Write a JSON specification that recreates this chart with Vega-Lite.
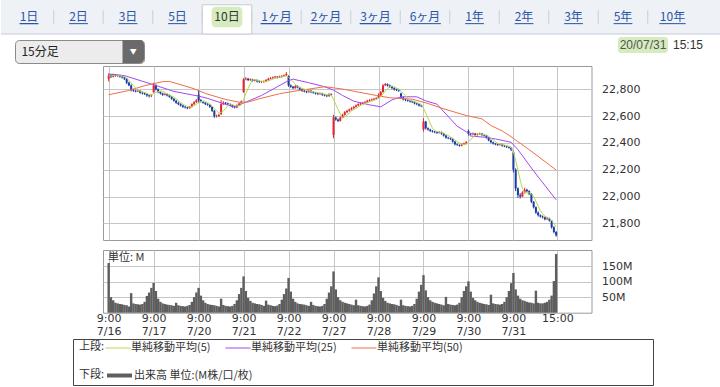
{
"$schema":"https://vega.github.io/schema/vega-lite/v6.json",
"padding":0,
"background":"white",
"config":{"view":{"stroke":null},"font":"DejaVu Sans","axis":{"labelFont":"DejaVu Sans","labelFontSize":11,"labelColor":"#333333","gridColor":"#c6c6c6","gridWidth":1,"domain":false,"ticks":false,"labelOverlap":false,"labelBound":false},"legend":{"labelFont":"Noto Sans CJK JP","titleFont":"Noto Sans CJK JP","labelFontSize":11,"titleFontSize":11,"titleFontWeight":"normal","labelColor":"#333333","titleColor":"#333333"},"text":{"font":"Noto Sans CJK JP"}},
"datasets":{
"tabs":[{"t":"1日"},{"t":"2日"},{"t":"3日"},{"t":"5日"},{"t":"10日"},{"t":"1ヶ月"},{"t":"2ヶ月"},{"t":"3ヶ月"},{"t":"6ヶ月"},{"t":"1年"},{"t":"2年"},{"t":"3年"},{"t":"5年"},{"t":"10年"}],
"ma":[
{"s":"25","i":0,"v":22915},{"s":"25","i":7,"v":22903},{"s":"25","i":20,"v":22835},{"s":"25","i":29,"v":22785},{"s":"25","i":40,"v":22750},{"s":"25","i":44,"v":22733},{"s":"25","i":53,"v":22683},{"s":"25","i":56,"v":22670},{"s":"25","i":60,"v":22698},{"s":"25","i":68,"v":22755},{"s":"25","i":75,"v":22820},{"s":"25","i":80,"v":22866},{"s":"25","i":82,"v":22877},{"s":"25","i":89,"v":22850},{"s":"25","i":96,"v":22820},{"s":"25","i":100,"v":22795},{"s":"25","i":104,"v":22755},{"s":"25","i":109,"v":22712},{"s":"25","i":116,"v":22685},{"s":"25","i":121,"v":22670},{"s":"25","i":126,"v":22722},{"s":"25","i":130,"v":22745},{"s":"25","i":137,"v":22745},{"s":"25","i":141,"v":22715},{"s":"25","i":146,"v":22690},{"s":"25","i":150,"v":22616},{"s":"25","i":155,"v":22525},{"s":"25","i":159,"v":22484},{"s":"25","i":161,"v":22452},{"s":"25","i":167,"v":22443},{"s":"25","i":172,"v":22430},{"s":"25","i":179,"v":22405},{"s":"25","i":182,"v":22350},{"s":"25","i":189,"v":22190},{"s":"25","i":199,"v":21975},
{"s":"50","i":0,"v":22760},{"s":"50","i":9,"v":22792},{"s":"50","i":16,"v":22828},{"s":"50","i":24,"v":22858},{"s":"50","i":27,"v":22860},{"s":"50","i":31,"v":22840},{"s":"50","i":38,"v":22805},{"s":"50","i":43,"v":22770},{"s":"50","i":52,"v":22725},{"s":"50","i":58,"v":22705},{"s":"50","i":62,"v":22706},{"s":"50","i":67,"v":22730},{"s":"50","i":76,"v":22768},{"s":"50","i":82,"v":22785},{"s":"50","i":96,"v":22820},{"s":"50","i":100,"v":22812},{"s":"50","i":105,"v":22800},{"s":"50","i":111,"v":22780},{"s":"50","i":119,"v":22755},{"s":"50","i":125,"v":22738},{"s":"50","i":135,"v":22727},{"s":"50","i":142,"v":22695},{"s":"50","i":149,"v":22655},{"s":"50","i":159,"v":22605},{"s":"50","i":166,"v":22580},{"s":"50","i":170,"v":22530},{"s":"50","i":175,"v":22490},{"s":"50","i":179,"v":22446},{"s":"50","i":187,"v":22350},{"s":"50","i":199,"v":22198}
],
"candles":[
{"i":0,"o":22880,"h":22920,"l":22860,"c":22905,"v":160,"m":22900},
{"i":1,"o":22905,"h":22915,"l":22885,"c":22895,"v":50,"m":22900},
{"i":2,"o":22895,"h":22918,"l":22890,"c":22910,"v":40,"m":22903},
{"i":3,"o":22910,"h":22915,"l":22895,"c":22900,"v":32,"m":22902},
{"i":4,"o":22900,"h":22912,"l":22893,"c":22905,"v":30,"m":22903},
{"i":5,"o":22905,"h":22910,"l":22888,"c":22895,"v":28,"m":22901},
{"i":6,"o":22895,"h":22902,"l":22882,"c":22890,"v":27,"m":22900},
{"i":7,"o":22890,"h":22895,"l":22870,"c":22880,"v":25,"m":22894},
{"i":8,"o":22880,"h":22885,"l":22840,"c":22850,"v":24,"m":22884},
{"i":9,"o":22850,"h":22858,"l":22825,"c":22830,"v":20,"m":22869},
{"i":10,"o":22830,"h":22838,"l":22785,"c":22795,"v":63,"m":22849},
{"i":11,"o":22795,"h":22805,"l":22782,"c":22790,"v":30,"m":22829},
{"i":12,"o":22790,"h":22798,"l":22778,"c":22785,"v":28,"m":22810},
{"i":13,"o":22785,"h":22797,"l":22780,"c":22790,"v":27,"m":22798},
{"i":14,"o":22790,"h":22794,"l":22768,"c":22775,"v":26,"m":22787},
{"i":15,"o":22775,"h":22783,"l":22762,"c":22770,"v":28,"m":22782},
{"i":16,"o":22770,"h":22778,"l":22758,"c":22765,"v":35,"m":22777},
{"i":17,"o":22765,"h":22770,"l":22745,"c":22755,"v":54,"m":22771},
{"i":18,"o":22755,"h":22762,"l":22740,"c":22750,"v":65,"m":22763},
{"i":19,"o":22750,"h":22762,"l":22742,"c":22755,"v":80,"m":22759},
{"i":20,"o":22780,"h":22850,"l":22775,"c":22830,"v":96,"m":22771},
{"i":21,"o":22830,"h":22838,"l":22792,"c":22800,"v":70,"m":22778},
{"i":22,"o":22800,"h":22808,"l":22772,"c":22780,"v":45,"m":22783},
{"i":23,"o":22780,"h":22786,"l":22762,"c":22770,"v":35,"m":22787},
{"i":24,"o":22770,"h":22775,"l":22752,"c":22760,"v":30,"m":22788},
{"i":25,"o":22760,"h":22772,"l":22755,"c":22765,"v":28,"m":22775},
{"i":26,"o":22765,"h":22770,"l":22748,"c":22755,"v":26,"m":22766},
{"i":27,"o":22755,"h":22760,"l":22738,"c":22745,"v":25,"m":22759},
{"i":28,"o":22745,"h":22750,"l":22722,"c":22730,"v":24,"m":22751},
{"i":29,"o":22730,"h":22735,"l":22708,"c":22715,"v":22,"m":22742},
{"i":30,"o":22715,"h":22722,"l":22692,"c":22700,"v":32,"m":22729},
{"i":31,"o":22700,"h":22708,"l":22682,"c":22690,"v":24,"m":22716},
{"i":32,"o":22690,"h":22696,"l":22672,"c":22680,"v":22,"m":22703},
{"i":33,"o":22680,"h":22686,"l":22662,"c":22670,"v":21,"m":22691},
{"i":34,"o":22670,"h":22676,"l":22658,"c":22665,"v":20,"m":22681},
{"i":35,"o":22665,"h":22670,"l":22652,"c":22660,"v":22,"m":22673},
{"i":36,"o":22660,"h":22676,"l":22655,"c":22670,"v":25,"m":22669},
{"i":37,"o":22670,"h":22696,"l":22665,"c":22690,"v":35,"m":22671},
{"i":38,"o":22690,"h":22712,"l":22684,"c":22705,"v":50,"m":22678},
{"i":39,"o":22705,"h":22728,"l":22698,"c":22720,"v":65,"m":22689},
{"i":40,"o":22760,"h":22790,"l":22700,"c":22720,"v":80,"m":22701},
{"i":41,"o":22720,"h":22728,"l":22702,"c":22710,"v":55,"m":22709},
{"i":42,"o":22710,"h":22716,"l":22693,"c":22700,"v":40,"m":22711},
{"i":43,"o":22700,"h":22706,"l":22683,"c":22690,"v":32,"m":22708},
{"i":44,"o":22690,"h":22697,"l":22678,"c":22685,"v":28,"m":22701},
{"i":45,"o":22685,"h":22690,"l":22662,"c":22670,"v":26,"m":22691},
{"i":46,"o":22670,"h":22675,"l":22632,"c":22640,"v":25,"m":22677},
{"i":47,"o":22640,"h":22646,"l":22588,"c":22600,"v":24,"m":22657},
{"i":48,"o":22600,"h":22612,"l":22590,"c":22600,"v":22,"m":22639},
{"i":49,"o":22600,"h":22618,"l":22595,"c":22610,"v":20,"m":22624},
{"i":50,"o":22615,"h":22720,"l":22610,"c":22690,"v":45,"m":22628},
{"i":51,"o":22690,"h":22712,"l":22684,"c":22700,"v":25,"m":22640},
{"i":52,"o":22700,"h":22706,"l":22688,"c":22695,"v":22,"m":22659},
{"i":53,"o":22695,"h":22702,"l":22683,"c":22690,"v":21,"m":22677},
{"i":54,"o":22690,"h":22695,"l":22673,"c":22680,"v":20,"m":22691},
{"i":55,"o":22680,"h":22686,"l":22663,"c":22670,"v":22,"m":22687},
{"i":56,"o":22670,"h":22675,"l":22658,"c":22665,"v":28,"m":22680},
{"i":57,"o":22665,"h":22688,"l":22660,"c":22680,"v":40,"m":22677},
{"i":58,"o":22680,"h":22702,"l":22675,"c":22695,"v":60,"m":22678},
{"i":59,"o":22695,"h":22718,"l":22690,"c":22710,"v":80,"m":22684},
{"i":60,"o":22780,"h":22885,"l":22775,"c":22875,"v":117,"m":22725},
{"i":61,"o":22875,"h":22892,"l":22868,"c":22880,"v":70,"m":22768},
{"i":62,"o":22880,"h":22886,"l":22862,"c":22870,"v":48,"m":22806},
{"i":63,"o":22870,"h":22882,"l":22864,"c":22875,"v":38,"m":22842},
{"i":64,"o":22875,"h":22880,"l":22858,"c":22865,"v":32,"m":22873},
{"i":65,"o":22865,"h":22878,"l":22860,"c":22870,"v":30,"m":22872},
{"i":66,"o":22870,"h":22875,"l":22852,"c":22860,"v":28,"m":22868},
{"i":67,"o":22860,"h":22866,"l":22848,"c":22855,"v":27,"m":22865},
{"i":68,"o":22855,"h":22863,"l":22847,"c":22855,"v":25,"m":22861},
{"i":69,"o":22855,"h":22867,"l":22850,"c":22860,"v":22,"m":22860},
{"i":70,"o":22860,"h":22877,"l":22855,"c":22870,"v":39,"m":22860},
{"i":71,"o":22870,"h":22887,"l":22865,"c":22880,"v":26,"m":22864},
{"i":72,"o":22880,"h":22892,"l":22874,"c":22885,"v":24,"m":22870},
{"i":73,"o":22885,"h":22897,"l":22878,"c":22890,"v":22,"m":22877},
{"i":74,"o":22890,"h":22902,"l":22884,"c":22895,"v":21,"m":22884},
{"i":75,"o":22895,"h":22900,"l":22882,"c":22890,"v":23,"m":22888},
{"i":76,"o":22890,"h":22903,"l":22885,"c":22895,"v":28,"m":22891},
{"i":77,"o":22895,"h":22907,"l":22889,"c":22900,"v":42,"m":22894},
{"i":78,"o":22900,"h":22912,"l":22894,"c":22905,"v":60,"m":22897},
{"i":79,"o":22905,"h":22930,"l":22900,"c":22915,"v":78,"m":22901},
{"i":80,"o":22900,"h":22905,"l":22820,"c":22830,"v":112,"m":22889},
{"i":81,"o":22830,"h":22838,"l":22812,"c":22820,"v":68,"m":22874},
{"i":82,"o":22820,"h":22826,"l":22802,"c":22810,"v":45,"m":22856},
{"i":83,"o":22810,"h":22832,"l":22805,"c":22825,"v":35,"m":22840},
{"i":84,"o":22825,"h":22830,"l":22808,"c":22815,"v":30,"m":22820},
{"i":85,"o":22815,"h":22820,"l":22792,"c":22800,"v":28,"m":22814},
{"i":86,"o":22800,"h":22806,"l":22782,"c":22790,"v":27,"m":22808},
{"i":87,"o":22790,"h":22796,"l":22778,"c":22785,"v":26,"m":22803},
{"i":88,"o":22785,"h":22790,"l":22772,"c":22780,"v":24,"m":22794},
{"i":89,"o":22780,"h":22797,"l":22775,"c":22790,"v":22,"m":22789},
{"i":90,"o":22790,"h":22795,"l":22772,"c":22780,"v":35,"m":22785},
{"i":91,"o":22780,"h":22786,"l":22768,"c":22775,"v":25,"m":22782},
{"i":92,"o":22775,"h":22780,"l":22762,"c":22770,"v":22,"m":22779},
{"i":93,"o":22770,"h":22776,"l":22758,"c":22765,"v":21,"m":22776},
{"i":94,"o":22765,"h":22777,"l":22760,"c":22770,"v":20,"m":22772},
{"i":95,"o":22770,"h":22775,"l":22752,"c":22760,"v":22,"m":22768},
{"i":96,"o":22760,"h":22766,"l":22748,"c":22755,"v":28,"m":22764},
{"i":97,"o":22755,"h":22760,"l":22742,"c":22750,"v":45,"m":22760},
{"i":98,"o":22750,"h":22772,"l":22745,"c":22765,"v":65,"m":22760},
{"i":99,"o":22765,"h":22770,"l":22752,"c":22760,"v":85,"m":22758},
{"i":100,"o":22460,"h":22610,"l":22435,"c":22590,"v":133,"m":22724},
{"i":101,"o":22590,"h":22598,"l":22566,"c":22575,"v":75,"m":22688},
{"i":102,"o":22575,"h":22582,"l":22556,"c":22565,"v":50,"m":22651},
{"i":103,"o":22565,"h":22598,"l":22560,"c":22590,"v":40,"m":22616},
{"i":104,"o":22590,"h":22618,"l":22585,"c":22610,"v":35,"m":22586},
{"i":105,"o":22610,"h":22638,"l":22604,"c":22630,"v":32,"m":22594},
{"i":106,"o":22630,"h":22648,"l":22622,"c":22640,"v":30,"m":22607},
{"i":107,"o":22640,"h":22657,"l":22633,"c":22650,"v":28,"m":22624},
{"i":108,"o":22650,"h":22667,"l":22643,"c":22660,"v":26,"m":22638},
{"i":109,"o":22660,"h":22677,"l":22653,"c":22670,"v":24,"m":22650},
{"i":110,"o":22670,"h":22688,"l":22664,"c":22680,"v":42,"m":22660},
{"i":111,"o":22680,"h":22697,"l":22674,"c":22690,"v":24,"m":22670},
{"i":112,"o":22690,"h":22702,"l":22684,"c":22695,"v":22,"m":22679},
{"i":113,"o":22695,"h":22707,"l":22688,"c":22700,"v":21,"m":22687},
{"i":114,"o":22700,"h":22712,"l":22694,"c":22705,"v":20,"m":22694},
{"i":115,"o":22705,"h":22722,"l":22699,"c":22715,"v":22,"m":22701},
{"i":116,"o":22715,"h":22727,"l":22708,"c":22720,"v":26,"m":22707},
{"i":117,"o":22720,"h":22732,"l":22714,"c":22725,"v":40,"m":22713},
{"i":118,"o":22725,"h":22737,"l":22718,"c":22730,"v":62,"m":22719},
{"i":119,"o":22730,"h":22742,"l":22724,"c":22735,"v":85,"m":22725},
{"i":120,"o":22740,"h":22770,"l":22735,"c":22755,"v":114,"m":22733},
{"i":121,"o":22755,"h":22788,"l":22750,"c":22780,"v":70,"m":22745},
{"i":122,"o":22780,"h":22840,"l":22775,"c":22830,"v":48,"m":22766},
{"i":123,"o":22830,"h":22848,"l":22825,"c":22840,"v":38,"m":22788},
{"i":124,"o":22840,"h":22845,"l":22822,"c":22830,"v":32,"m":22807},
{"i":125,"o":22830,"h":22836,"l":22812,"c":22820,"v":30,"m":22820},
{"i":126,"o":22820,"h":22826,"l":22802,"c":22810,"v":28,"m":22826},
{"i":127,"o":22810,"h":22816,"l":22792,"c":22800,"v":27,"m":22820},
{"i":128,"o":22800,"h":22806,"l":22788,"c":22795,"v":25,"m":22811},
{"i":129,"o":22795,"h":22800,"l":22782,"c":22790,"v":22,"m":22803},
{"i":130,"o":22770,"h":22775,"l":22732,"c":22740,"v":42,"m":22787},
{"i":131,"o":22740,"h":22746,"l":22718,"c":22725,"v":24,"m":22770},
{"i":132,"o":22725,"h":22731,"l":22712,"c":22720,"v":22,"m":22754},
{"i":133,"o":22720,"h":22726,"l":22708,"c":22715,"v":21,"m":22738},
{"i":134,"o":22715,"h":22720,"l":22702,"c":22710,"v":20,"m":22722},
{"i":135,"o":22710,"h":22716,"l":22698,"c":22705,"v":22,"m":22715},
{"i":136,"o":22705,"h":22710,"l":22688,"c":22695,"v":28,"m":22709},
{"i":137,"o":22695,"h":22700,"l":22682,"c":22690,"v":45,"m":22703},
{"i":138,"o":22690,"h":22695,"l":22672,"c":22680,"v":68,"m":22696},
{"i":139,"o":22680,"h":22686,"l":22668,"c":22675,"v":90,"m":22689},
{"i":140,"o":22500,"h":22585,"l":22485,"c":22560,"v":121,"m":22660},
{"i":141,"o":22560,"h":22565,"l":22500,"c":22510,"v":72,"m":22623},
{"i":142,"o":22510,"h":22516,"l":22492,"c":22500,"v":50,"m":22585},
{"i":143,"o":22500,"h":22506,"l":22482,"c":22490,"v":40,"m":22547},
{"i":144,"o":22490,"h":22496,"l":22478,"c":22485,"v":35,"m":22509},
{"i":145,"o":22485,"h":22490,"l":22472,"c":22480,"v":32,"m":22493},
{"i":146,"o":22480,"h":22485,"l":22467,"c":22475,"v":30,"m":22486},
{"i":147,"o":22475,"h":22488,"l":22470,"c":22480,"v":28,"m":22482},
{"i":148,"o":22480,"h":22485,"l":22462,"c":22470,"v":26,"m":22478},
{"i":149,"o":22470,"h":22475,"l":22447,"c":22455,"v":24,"m":22472},
{"i":150,"o":22455,"h":22460,"l":22432,"c":22440,"v":51,"m":22464},
{"i":151,"o":22440,"h":22446,"l":22428,"c":22435,"v":28,"m":22456},
{"i":152,"o":22435,"h":22440,"l":22422,"c":22430,"v":26,"m":22446},
{"i":153,"o":22430,"h":22435,"l":22402,"c":22410,"v":25,"m":22434},
{"i":154,"o":22410,"h":22415,"l":22382,"c":22390,"v":24,"m":22421},
{"i":155,"o":22390,"h":22396,"l":22378,"c":22385,"v":26,"m":22410},
{"i":156,"o":22385,"h":22390,"l":22372,"c":22380,"v":32,"m":22399},
{"i":157,"o":22380,"h":22397,"l":22375,"c":22390,"v":50,"m":22391},
{"i":158,"o":22390,"h":22402,"l":22384,"c":22395,"v":70,"m":22388},
{"i":159,"o":22395,"h":22414,"l":22390,"c":22405,"v":85,"m":22391},
{"i":160,"o":22490,"h":22500,"l":22455,"c":22470,"v":101,"m":22408},
{"i":161,"o":22470,"h":22476,"l":22457,"c":22465,"v":68,"m":22425},
{"i":162,"o":22465,"h":22478,"l":22460,"c":22470,"v":48,"m":22441},
{"i":163,"o":22470,"h":22475,"l":22452,"c":22460,"v":40,"m":22454},
{"i":164,"o":22460,"h":22472,"l":22455,"c":22465,"v":35,"m":22466},
{"i":165,"o":22465,"h":22477,"l":22460,"c":22470,"v":32,"m":22466},
{"i":166,"o":22470,"h":22475,"l":22452,"c":22460,"v":30,"m":22465},
{"i":167,"o":22460,"h":22465,"l":22448,"c":22455,"v":28,"m":22462},
{"i":168,"o":22455,"h":22460,"l":22432,"c":22440,"v":27,"m":22458},
{"i":169,"o":22440,"h":22445,"l":22412,"c":22420,"v":25,"m":22449},
{"i":170,"o":22420,"h":22425,"l":22398,"c":22405,"v":58,"m":22436},
{"i":171,"o":22405,"h":22410,"l":22388,"c":22395,"v":30,"m":22423},
{"i":172,"o":22395,"h":22400,"l":22383,"c":22390,"v":28,"m":22410},
{"i":173,"o":22390,"h":22395,"l":22378,"c":22385,"v":27,"m":22399},
{"i":174,"o":22385,"h":22397,"l":22380,"c":22390,"v":26,"m":22393},
{"i":175,"o":22390,"h":22395,"l":22372,"c":22380,"v":28,"m":22388},
{"i":176,"o":22380,"h":22385,"l":22368,"c":22375,"v":35,"m":22384},
{"i":177,"o":22375,"h":22380,"l":22362,"c":22370,"v":50,"m":22380},
{"i":178,"o":22370,"h":22375,"l":22358,"c":22365,"v":70,"m":22376},
{"i":179,"o":22365,"h":22370,"l":22340,"c":22350,"v":95,"m":22368},
{"i":180,"o":22330,"h":22340,"l":22180,"c":22200,"v":128,"m":22332},
{"i":181,"o":22200,"h":22210,"l":22040,"c":22060,"v":75,"m":22269},
{"i":182,"o":22060,"h":22068,"l":21990,"c":22010,"v":55,"m":22197},
{"i":183,"o":22010,"h":22025,"l":21985,"c":22000,"v":45,"m":22124},
{"i":184,"o":22000,"h":22040,"l":21995,"c":22030,"v":40,"m":22060},
{"i":185,"o":22030,"h":22065,"l":22022,"c":22050,"v":38,"m":22030},
{"i":186,"o":22050,"h":22058,"l":22032,"c":22040,"v":35,"m":22026},
{"i":187,"o":22040,"h":22046,"l":22010,"c":22020,"v":33,"m":22028},
{"i":188,"o":22020,"h":22026,"l":21950,"c":21960,"v":32,"m":22020},
{"i":189,"o":21960,"h":21966,"l":21910,"c":21920,"v":30,"m":21998},
{"i":190,"o":21920,"h":21926,"l":21870,"c":21880,"v":71,"m":21964},
{"i":191,"o":21880,"h":21888,"l":21850,"c":21860,"v":32,"m":21928},
{"i":192,"o":21860,"h":21866,"l":21842,"c":21850,"v":30,"m":21894},
{"i":193,"o":21850,"h":21858,"l":21836,"c":21845,"v":30,"m":21871},
{"i":194,"o":21845,"h":21850,"l":21822,"c":21830,"v":32,"m":21853},
{"i":195,"o":21830,"h":21848,"l":21825,"c":21835,"v":35,"m":21844},
{"i":196,"o":21835,"h":21842,"l":21812,"c":21820,"v":42,"m":21836},
{"i":197,"o":21820,"h":21825,"l":21760,"c":21770,"v":55,"m":21820},
{"i":198,"o":21770,"h":21778,"l":21725,"c":21735,"v":102,"m":21798},
{"i":199,"o":21735,"h":21742,"l":21700,"c":21710,"v":189,"m":21774}
]},
"vconcat":[
{"width":720,"height":34,"data":{"name":"tabs"},"view":{"fill":"#eef1f6"},
 "layer":[
  {"transform":[{"filter":"datum.t == '1日'"}],"mark":{"type":"rule","color":"#c5cbd6"},"encoding":{"y":{"datum":0,"type":"quantitative","scale":{"domain":[0,1]},"axis":null}}},
  {"transform":[{"filter":"datum.t == '10日'"}],"mark":{"type":"bar","fill":"#ffffff","stroke":"#c5cbd6","strokeWidth":1},
   "encoding":{"x":{"field":"t","type":"nominal","sort":null,"scale":{"domain":["1日","2日","3日","5日","10日","1ヶ月","2ヶ月","3ヶ月","6ヶ月","1年","2年","3年","5年","10年"],"paddingInner":0,"paddingOuter":0.2727,"align":0.12},"axis":null},"y":{"datum":0,"type":"quantitative","axis":null},"y2":{"datum":0.86}}},
  {"transform":[{"filter":"datum.t == '10日'"}],"mark":{"type":"bar","fill":"#d5ecbf","cornerRadius":4,"width":{"band":0.62}},
   "encoding":{"x":{"field":"t","type":"nominal","sort":null,"axis":null},"y":{"datum":0.2,"type":"quantitative","axis":null},"y2":{"datum":0.8}}},
  {"transform":[{"filter":"datum.t != '1日'"}],"mark":{"type":"rule","color":"#c9cfd9"},
   "encoding":{"x":{"field":"t","type":"nominal","sort":null,"bandPosition":0,"axis":null},"y":{"datum":0.3,"type":"quantitative","axis":null},"y2":{"datum":0.7}}},
  {"transform":[{"filter":"length(datum.t) == 2"}],"mark":{"type":"bar","fill":"#2b55a6","width":{"band":0.38}},
   "encoding":{"x":{"field":"t","type":"nominal","sort":null,"axis":null},"y":{"datum":0.29,"type":"quantitative","axis":null},"y2":{"datum":0.32}}},
  {"transform":[{"filter":"datum.t == '10年'"}],"mark":{"type":"bar","fill":"#2b55a6","width":{"band":0.53}},
   "encoding":{"x":{"field":"t","type":"nominal","sort":null,"axis":null},"y":{"datum":0.29,"type":"quantitative","axis":null},"y2":{"datum":0.32}}},
  {"transform":[{"filter":"indexof(datum.t, 'ヶ') >= 0"}],"mark":{"type":"bar","fill":"#2b55a6","width":{"band":0.64}},
   "encoding":{"x":{"field":"t","type":"nominal","sort":null,"axis":null},"y":{"datum":0.29,"type":"quantitative","axis":null},"y2":{"datum":0.32}}},
  {"mark":{"type":"text","fontSize":12,"font":"Noto Sans CJK JP"},
   "encoding":{"x":{"field":"t","type":"nominal","sort":null,"axis":null},"y":{"datum":0.5,"type":"quantitative","axis":null},"text":{"field":"t"},"color":{"condition":{"test":"datum.t == '10日'","value":"#333333"},"value":"#2b55a6"}}}
 ]},
{"hconcat":[
  {"width":13,"height":30,"data":{"values":[{}]},"mark":{"type":"point","size":0,"opacity":0}},
  {"vconcat":[
    {"width":129,"height":4,"data":{"values":[{}]},"mark":{"type":"point","size":0,"opacity":0}},
    {"width":129,"height":23,"data":{"values":[{"p":"label","t":"15分足"},{"p":"arrow","t":"▼"}]},"view":{"fill":"#ececec","stroke":"#8a8a8a","cornerRadius":4},
     "layer":[
      {"transform":[{"filter":"datum.p == 'arrow'"}],"mark":{"type":"bar","fill":"#6a6a6a","cornerRadiusTopRight":4,"cornerRadiusBottomRight":4},
       "encoding":{"x":{"field":"p","type":"nominal","scale":{"domain":["label","m1","m2","m3","m4","arrow"],"paddingInner":0,"paddingOuter":0},"axis":null}}},
      {"transform":[{"filter":"datum.p == 'arrow'"}],"mark":{"type":"text","fontSize":7,"color":"#ffffff"},
       "encoding":{"x":{"field":"p","type":"nominal","axis":null},"text":{"field":"t"}}},
      {"transform":[{"filter":"datum.p == 'label'"}],"mark":{"type":"text","fontSize":12,"align":"left","color":"#222222"},
       "encoding":{"x":{"field":"p","type":"nominal","bandPosition":0.3,"axis":null},"text":{"field":"t"}}}
     ]}
  ],"spacing":0},
  {"width":473,"height":30,"data":{"values":[{}]},"mark":{"type":"point","size":0,"opacity":0}},
  {"vconcat":[
    {"width":100,"height":2,"data":{"values":[{}]},"mark":{"type":"point","size":0,"opacity":0}},
    {"width":100,"height":16,"data":{"values":[{"p":"d","t":"20/07/31"},{"p":"t","t":"15:15"}]},
     "layer":[
      {"transform":[{"filter":"datum.p == 'd'"}],"mark":{"type":"bar","fill":"#d5ecbf","cornerRadius":3},
       "encoding":{"x":{"field":"p","type":"nominal","scale":{"domain":["d","t"],"paddingInner":0,"paddingOuter":0},"axis":null}}},
      {"transform":[{"filter":"datum.p == 'd'"}],"mark":{"type":"text","fontSize":12,"font":"Liberation Sans","color":"#555555"},
       "encoding":{"x":{"field":"p","type":"nominal","axis":null},"text":{"field":"t"}}},
      {"transform":[{"filter":"datum.p == 't'"}],"mark":{"type":"text","fontSize":12,"font":"Liberation Sans","color":"#333333","align":"left"},
       "encoding":{"x":{"field":"p","type":"nominal","bandPosition":0.1,"axis":null},"text":{"field":"t"}}}
     ]}
  ],"spacing":0}
 ],"spacing":0},
{"hconcat":[
  {"width":101.5,"height":246.7,"data":{"values":[{}]},"mark":{"type":"point","size":0,"opacity":0}},
  {"vconcat":[
    {"width":488.5,"height":174,"view":{"stroke":"#9a9a9a"},
     "layer":[
      {"data":{"name":"candles"},"mark":{"type":"rule","strokeWidth":1},
       "encoding":{"x":{"field":"i","type":"quantitative","scale":{"domain":[-0.3,212.5],"nice":false,"zero":false},"axis":{"values":[0,20,40,60,80,100,120,140,160,180,199.5],"labels":false,"grid":true,"title":null}},
        "y":{"field":"l","type":"quantitative","scale":{"domain":[21675,22975],"nice":false,"zero":false},"axis":{"orient":"right","values":[21800,22000,22200,22400,22600,22800],"format":",d","grid":true,"labelPadding":10,"labelOverlap":false,"title":null}},
        "y2":{"field":"h"},
        "color":{"condition":{"test":"datum.c >= datum.o","value":"#e5252b"},"value":"#1b3ca6"}}},
      {"data":{"name":"candles"},"mark":{"type":"bar","size":2},
       "encoding":{"x":{"field":"i","type":"quantitative","axis":{"values":[0,20,40,60,80,100,120,140,160,180,199.5],"labels":false,"grid":true,"title":null}},
        "y":{"field":"o","type":"quantitative","axis":{"orient":"right","values":[21800,22000,22200,22400,22600,22800],"format":",d","grid":true,"labelPadding":10,"labelOverlap":false,"title":null}},"y2":{"field":"c"},
        "color":{"condition":{"test":"datum.c >= datum.o","value":"#e5252b"},"value":"#1b3ca6"}}},
      {"data":{"name":"ma"},"mark":{"type":"line","strokeWidth":1},
       "encoding":{"x":{"field":"i","type":"quantitative","axis":{"values":[0,20,40,60,80,100,120,140,160,180,199.5],"labels":false,"grid":true,"title":null}},
        "y":{"field":"v","type":"quantitative","axis":{"orient":"right","values":[21800,22000,22200,22400,22600,22800],"format":",d","grid":true,"labelPadding":10,"labelOverlap":false,"title":null}},
        "color":{"field":"s","type":"nominal","scale":{"domain":["5","25","50"],"range":["#b5d84e","#a148f2","#ef6f48"]},"legend":null}}},
      {"data":{"name":"candles"},"mark":{"type":"line","strokeWidth":1},
       "encoding":{"x":{"field":"i","type":"quantitative","axis":{"values":[0,20,40,60,80,100,120,140,160,180,199.5],"labels":false,"grid":true,"title":null}},
        "y":{"field":"m","type":"quantitative","axis":{"orient":"right","values":[21800,22000,22200,22400,22600,22800],"format":",d","grid":true,"labelPadding":10,"labelOverlap":false,"title":null}},"color":{"datum":"5","type":"nominal","legend":null}}}
     ]},
    {"width":488.5,"height":62.7,"view":{"stroke":"#9a9a9a"},
     "layer":[
      {"data":{"name":"candles"},"mark":{"type":"bar","size":2.4,"color":"#5e5e5e"},
       "encoding":{"x":{"field":"i","type":"quantitative","scale":{"domain":[-0.3,212.5],"nice":false,"zero":false},"axis":{"values":[0,20,40,60,80,100,120,140,160,180,199.5],"grid":true,"labelExpr":"datum.value > 190 ? '15:00' : ['9:00', ['7/16','7/17','7/20','7/21','7/22','7/27','7/28','7/29','7/30','7/31'][round(datum.value/20)]]","labelFlush":false,"labelOverlap":false,"labelPadding":0,"labelLineHeight":13,"title":null}},
        "y":{"field":"v","type":"quantitative","scale":{"domain":[0,202],"nice":false},"axis":{"orient":"right","values":[50,100,150],"labelExpr":"datum.value + 'M'","grid":true,"labelPadding":10,"labelOverlap":false,"title":null}}}},
      {"data":{"values":[{"u":"単位: M"}]},"mark":{"type":"text","align":"left","baseline":"top","fontSize":11,"color":"#333333","dy":2},
       "encoding":{"x":{"datum":-0.3,"type":"quantitative","axis":{"values":[0,20,40,60,80,100,120,140,160,180,199.5],"grid":true,"labelExpr":"datum.value > 190 ? '15:00' : ['9:00', ['7/16','7/17','7/20','7/21','7/22','7/27','7/28','7/29','7/30','7/31'][round(datum.value/20)]]","labelFlush":false,"labelOverlap":false,"labelPadding":0,"labelLineHeight":13,"title":null}},
        "y":{"datum":202,"type":"quantitative","axis":{"orient":"right","values":[50,100,150],"labelExpr":"datum.value + 'M'","grid":true,"labelPadding":10,"labelOverlap":false,"title":null}},"text":{"field":"u"}}}
     ]}
  ],"spacing":10,"bounds":"flush"}
 ],"spacing":0,"bounds":"flush"},
{"hconcat":[
  {"width":72,"height":46,"data":{"values":[{}]},"mark":{"type":"point","size":0,"opacity":0}},
  {"width":580,"height":46,"view":{"stroke":"#444444"},
   "layer":[
    {"data":{"values":[{"s":"5"},{"s":"25"},{"s":"50"}]},"transform":[{"filter":"false"}],"mark":{"type":"line","strokeWidth":1},
     "encoding":{"x":{"field":"s","type":"nominal","axis":null},"y":{"field":"s","type":"nominal","axis":null},
      "color":{"field":"s","type":"nominal","scale":{"domain":["5","25","50"],"range":["#b5d84e","#a148f2","#ef6f48"]},
       "legend":{"title":"上段:","orient":"none","legendX":6,"legendY":2,"direction":"horizontal","titleOrient":"left","symbolType":"M-2,0H2","symbolSize":156,"symbolStrokeWidth":1,"labelExpr":"'単純移動平均(' + datum.label + ')'","columnPadding":12,"gridAlign":"none","labelOffset":6,"titlePadding":6}}}},
    {"data":{"values":[{"s":"出来高 単位:(M株/口/枚)"}]},"transform":[{"filter":"false"}],"mark":{"type":"line","strokeWidth":4},
     "encoding":{"x":{"field":"s","type":"nominal","axis":null},"y":{"field":"s","type":"nominal","axis":null},
      "color":{"field":"s","type":"nominal","scale":{"domain":["出来高 単位:(M株/口/枚)"],"range":["#5e5e5e"]},
       "legend":{"title":"下段:","orient":"none","legendX":6,"legendY":28,"direction":"horizontal","titleOrient":"left","symbolType":"M-2,0H2","symbolSize":156,"symbolStrokeWidth":4,"labelOffset":6,"titlePadding":6}}}}
   ],
   "resolve":{"scale":{"color":"independent"},"legend":{"color":"independent"}}}
 ],"spacing":0,"bounds":"flush"}
],
"spacing":0
}
